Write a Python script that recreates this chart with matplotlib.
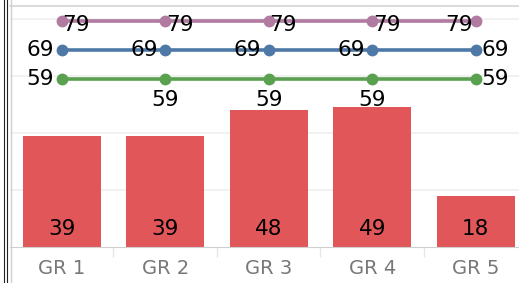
import matplotlib.pyplot as plt
from matplotlib.lines import Line2D
import numpy as np

groups = ['GR 1', 'GR 2', 'GR 3', 'GR 4', 'GR 5']
bar_vals = [39, 39, 48, 49, 18]
purple_vals = [79, 79, 79, 79, 79]
blue_vals = [69, 69, 69, 69, 69]
green_vals = [59, 59, 59, 59, 59]

W, H = 519, 283
fig = plt.figure(figsize=(W / 100, H / 100), dpi=100)
# axes box in pixels: left 10, right 519, baseline y=247, top y=6
ax = fig.add_axes([10 / W, 36 / H, 509 / W, 241 / H])

x = np.arange(len(groups))
ax.bar(x, bar_vals, width=0.755, color='#E15759', zorder=2)
for xi, v in zip(x, bar_vals):
    ax.annotate(str(v), (xi, 0), xytext=(0, 13), textcoords='offset points',
                ha='center', va='center', fontsize=15.5, color='black')

lw, ms = 2.6, 7.5
ax.plot(x, purple_vals, color='#B07AA1', lw=lw, marker='o', ms=ms, zorder=3)
ax.plot(x, blue_vals, color='#4E79A7', lw=lw, marker='o', ms=ms, zorder=3)
ax.plot(x, green_vals, color='#59A14F', lw=lw, marker='o', ms=ms, zorder=3)

def lab(xi, v, dx, dy, ha):
    ax.annotate(str(v), (xi, v), xytext=(dx, dy), textcoords='offset points',
                ha=ha, va='center', fontsize=15.5, color='black', zorder=4)

n = len(groups)
for i, v in enumerate(purple_vals):
    if i < n - 1:
        lab(x[i], v, 0.5, -2.5, 'left')
    else:
        lab(x[i], v, -2, -2.5, 'right')
for i, v in enumerate(blue_vals):
    if i < n - 1:
        lab(x[i], v, -5.5, 0, 'right')
    else:
        lab(x[i], v, 4, 0, 'left')
for i, v in enumerate(green_vals):
    if i == 0:
        lab(x[i], v, -5.5, 0, 'right')
    elif i == n - 1:
        lab(x[i], v, 4, 0, 'left')
    else:
        lab(x[i], v, 0, -15.5, 'center')

ax.set_xlim(-0.5, 4.418)
ax.set_ylim(0, 84.4)
ax.set_yticks([20, 40, 60, 80])
ax.yaxis.grid(True, color='#efefef', lw=1.2, zorder=0)
ax.tick_params(axis='y', left=False, labelleft=False)
ax.set_xticks(x)
ax.set_xticklabels(groups, fontsize=14, color='#777777')
ax.tick_params(axis='x', length=0, pad=9)
ax.set_xticks(x[:-1] + 0.5, minor=True)
ax.tick_params(axis='x', which='minor', length=7, color='#e6e6e6', width=1)

ax.spines['right'].set_visible(False)
ax.spines['bottom'].set_color('#cfcfcf')
ax.spines['top'].set_color('#d4d4d4')
ax.spines['top'].set_linewidth(1.2)
ax.spines['left'].set_visible(False)

# left border lines
fig.add_artist(Line2D([10.5 / W, 10.5 / W], [0, 1], color='#d0d0d0', lw=1))
fig.add_artist(Line2D([4.5 / W, 4.5 / W], [0, 1], color='#222222', lw=0.8))
fig.add_artist(Line2D([6.5 / W, 6.5 / W], [0, 1], color='#222222', lw=0.8))

fig.savefig('out.png', dpi=100)
